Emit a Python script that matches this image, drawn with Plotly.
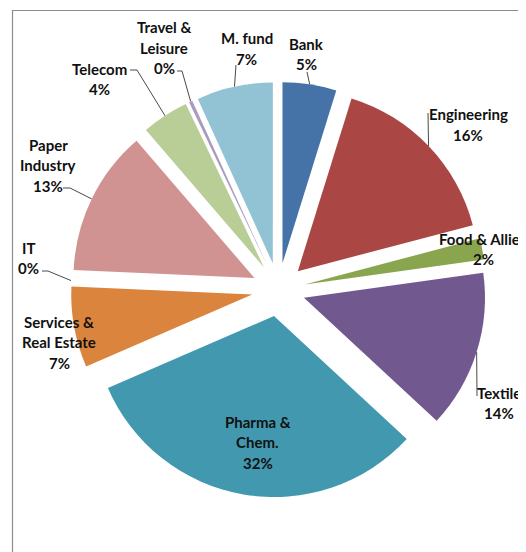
import math
import plotly.graph_objects as go

# ---- data ----
categories = ["Bank", "Engineering", "Food & Allied", "Textile", "Pharma & Chem.",
              "Services & Real Estate", "IT", "Paper Industry", "Telecom",
              "Travel & Leisure", "M. fund"]
shares = [4.8, 16.1, 1.9, 14.1, 31.6, 7.2, 0.0, 13.0, 4.2, 0.3, 6.8]
label_lines = [["Bank", "5%"], ["Engineering", "16%"], ["Food & Allied", "2%"],
               ["Textile", "14%"], ["Pharma &", "Chem.", "32%"],
               ["Services &", "Real Estate", "7%"], ["IT", "0%"],
               ["Paper", "Industry", "13%"], ["Telecom", "4%"],
               ["Travel &", "Leisure", "0%"], ["M. fund", "7%"]]

# ---- style / layout ----
colors = ["#4572A7", "#AA4643", "#89A54E", "#71588F", "#4198AF", "#DB843D",
          "#93A9CF", "#D19392", "#B9CD96", "#A99BBD", "#92C3D5"]
W, H = 526, 552
BODY = 8  # default page body margin: figure is drawn 8px in from the window corner
CX, CY, R, PULL = 278.5, 289.7, 181.0, 0.1475  # in window pixels
FONT = "Lato"
FS = 15
LINE_GAP = 20.5

# label block centres (window pixels) and leader line paths (label side points)
label_pos = {
    "Bank": (306, 53), "Engineering": (468, 123.5), "Food & Allied": (483, 248),
    "Textile": (499, 402), "Pharma & Chem.": (257.5, 441),
    "Services & Real Estate": (59, 341), "IT": (28, 257),
    "Paper Industry": (48, 164), "Telecom": (99.5, 78),
    "Travel & Leisure": (164, 46.5), "M. fund": (246.5, 47.7),
}
leader_pts = {
    "Bank": [(307, 72)], "Engineering": [(428, 113)], "Textile": [(477, 396)],
    "M. fund": [(236, 65)], "Travel & Leisure": [(182, 71), (177, 71)],
    "Telecom": [(137, 70), (130, 70)], "Paper Industry": [(70, 188), (63, 188)],
    "IT": [(48, 271), (42, 271)],
}

half = R * (1 + PULL)
fx, fy = CX - BODY, CY - BODY  # centre in figure pixels
fig = go.Figure()
fig.add_trace(go.Pie(
    labels=categories, values=shares, sort=False, direction="clockwise",
    rotation=0, pull=[PULL] * len(shares), textinfo="none", hoverinfo="label+percent",
    marker=dict(colors=colors, line=dict(width=0)), showlegend=False,
    domain=dict(x=[(fx - half) / W, (fx + half) / W],
                y=[(H - fy - half) / H, (H - fy + half) / H]),
))

# leader lines starting at slice outer arc midpoints (from data)
total = sum(shares)
cum = 0.0
for cat, v in zip(categories, shares):
    mid = (cum + v / 2) / total * 360.0
    cum += v
    if cat not in leader_pts:
        continue
    rr = R * (1 + PULL)
    ax = CX + rr * math.sin(math.radians(mid))
    ay = CY - rr * math.cos(math.radians(mid))
    xs = [ax] + [p[0] for p in leader_pts[cat]]
    ys = [ay] + [p[1] for p in leader_pts[cat]]
    fig.add_trace(go.Scatter(x=xs, y=ys, mode="lines", line=dict(color="#4a4a4a", width=1),
                             hoverinfo="skip", showlegend=False))

annotations = []
for cat, lines in zip(categories, label_lines):
    bx, by = label_pos[cat]
    n = len(lines)
    for i, t in enumerate(lines):
        yy = by + (i - (n - 1) / 2) * LINE_GAP + 1
        annotations.append(dict(x=bx, y=yy, xref="x", yref="y", text=t, showarrow=False,
                                xanchor="center", yanchor="middle",
                                font=dict(family=FONT, size=FS, color="#111", weight="bold")))

fig.update_layout(
    width=W, height=H, margin=dict(l=0, r=0, t=0, b=0),
    paper_bgcolor="white", plot_bgcolor="rgba(0,0,0,0)",
    xaxis=dict(range=[BODY, BODY + W], visible=False, domain=[0, 1], fixedrange=True),
    yaxis=dict(range=[BODY + H, BODY], visible=False, domain=[0, 1], fixedrange=True),
    annotations=annotations,
    shapes=[dict(type="rect", xref="x", yref="y", x0=12.5, y0=10.5, x1=W + 40, y1=H + 40,
                 line=dict(color="#8c8c8c", width=1.2), fillcolor="rgba(0,0,0,0)")],
)

fig.write_html("out.html")
